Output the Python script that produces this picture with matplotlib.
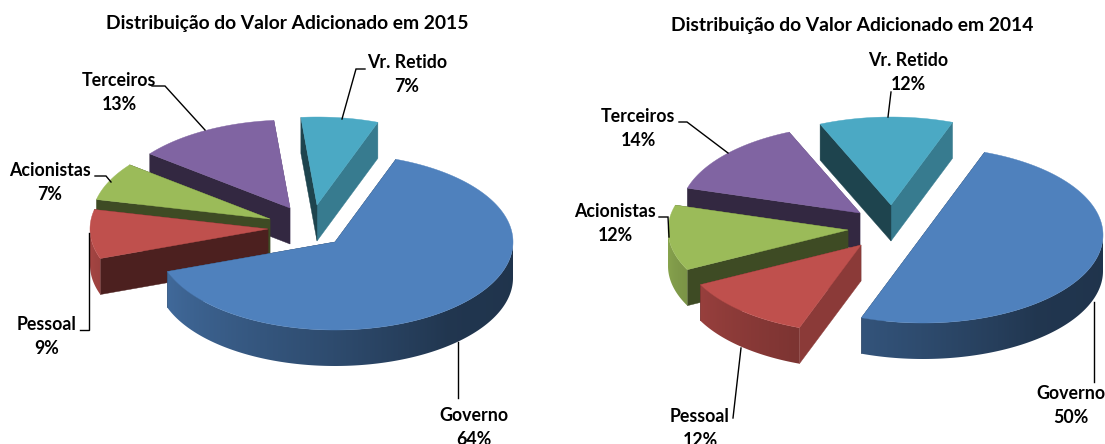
import numpy as np
import matplotlib
matplotlib.use("Agg")
import matplotlib.pyplot as plt
from matplotlib.colors import to_rgb
from matplotlib.patches import Polygon

# ---- data ----
categories = ["Governo", "Pessoal", "Acionistas", "Terceiros", "Vr. Retido"]
values_2015 = [64, 9, 7, 13, 7]
values_2014 = [50, 12, 12, 14, 12]
title_2015 = "Distribuição do Valor Adicionado em 2015"
title_2014 = "Distribuição do Valor Adicionado em 2014"

# ---- style / layout ----
colors = ["#4F81BD", "#BF504D", "#9BBB59", "#8064A2", "#4BA9C4"]
W, H = 1105, 444
DEPTH = 36
START = 70.0
FS = 12.8
TITLE_FS = 13.9
plt.rcParams["font.family"] = ["Lato", "DejaVu Sans"]

layout_2015 = dict(
    rx=178, ry=88,
    apex=[(335, 242), (268, 229), (270, 219), (290, 208), (317, 205)],
    title=(287, 23),
    labels=[(474, 427), (47, 336), (50, 182), (119, 92), (407, 75)],
    leaders=[[(458, 342), (458, 398)],
             [(89, 233), (89, 330), (80, 330)],
             [(111, 182), (106, 176), (95, 176)],
             [(205, 130), (165, 86), (152, 86)],
             [(342, 119), (356, 69), (365, 69)]],
)
layout_2014 = dict(
    rx=180, ry=88,
    apex=[(923, 235), (861, 245), (848, 230), (860, 213), (891, 205)],
    title=(852, 25),
    labels=[(1071, 405), (700, 428), (615, 223), (638, 128), (908, 73)],
    leaders=[[(1094, 302), (1094, 382)],
             [(741, 348), (733, 418)],
             [(669, 237), (668, 217), (659, 217)],
             [(728, 153), (687, 122), (679, 122)],
             [(888, 117), (891, 92)]],
)


def shade(c, f):
    return np.clip(np.array(to_rgb(c)) * f, 0, 1)


def side_factor(t):
    return np.interp(t, [180, 230, 270, 310, 360], [0.88, 0.72, 0.58, 0.42, 0.40])


def draw_pie(ax, values, lay):
    vals = np.asarray(values, float)
    frac = vals / vals.sum() * 360
    starts = START - np.concatenate([[0], np.cumsum(frac)[:-1]])
    rx, ry = lay["rx"], lay["ry"]
    for i in range(len(vals) - 1, -1, -1):
        t0, t1 = starts[i], starts[i] - frac[i]
        cx, cy = lay["apex"][i]
        col = colors[i]
        z = i * -10 + 50
        ts = np.linspace(t0, t1, max(int(abs(t0 - t1) * 2), 8))
        xs = cx + rx * np.cos(np.radians(ts))
        ys = cy - ry * np.sin(np.radians(ts))
        # radial side faces
        for t, nrm in ((t1, t1 - 90), (t0, t0 + 90)):
            px = cx + rx * np.cos(np.radians(t))
            py = cy - ry * np.sin(np.radians(t))
            f = 0.73 if np.cos(np.radians(nrm)) > 0.7 else 0.40
            ax.fill([cx, px, px, cx], [cy, py, py + DEPTH, cy + DEPTH],
                    color=shade(col, f), lw=0.3, zorder=z)
        # outer curved side: gradient clipped to the band under the front arc
        front = np.sin(np.radians(ts)) < 0.0
        if front.any():
            ax_, ay_ = xs[front], ys[front]
            poly = np.column_stack([np.r_[ax_, ax_[::-1]], np.r_[ay_, ay_[::-1] + DEPTH]])
            x0, x1 = poly[:, 0].min() - 1, poly[:, 0].max() + 1
            y0, y1 = poly[:, 1].min() - 1, poly[:, 1].max() + 1
            gx = np.linspace(x0, x1, max(int(x1 - x0), 2))
            ang = 360 - np.degrees(np.arccos(np.clip((gx - cx) / rx, -1, 1)))
            img = np.array([shade(col, side_factor(a)) for a in ang])[None, :, :]
            im = ax.imshow(img, extent=(x0, x1, y1, y0), aspect="auto",
                           interpolation="bilinear", zorder=z + 1)
            clip = Polygon(poly, closed=True, transform=ax.transData)
            im.set_clip_path(clip)
        # top face
        ax.fill(np.r_[cx, xs], np.r_[cy, ys], color=col, lw=0.3, zorder=z + 2)
    # leaders and labels
    for i, cat in enumerate(categories):
        pts = np.array(lay["leaders"][i])
        ax.plot(pts[:, 0], pts[:, 1], color="black", lw=1.0, zorder=100,
                solid_joinstyle="miter")
        lx, ly = lay["labels"][i]
        ax.text(lx, ly, f"{cat}\n{values[i]}%", ha="center", va="center",
                fontsize=FS, fontweight="bold", color="black", linespacing=1.5, zorder=101)


fig = plt.figure(figsize=(W / 100, H / 100), dpi=100, facecolor="white")
ax = fig.add_axes([0, 0, 1, 1])
draw_pie(ax, values_2015, layout_2015)
draw_pie(ax, values_2014, layout_2014)
ax.text(*layout_2015["title"], title_2015, ha="center", va="center",
        fontsize=TITLE_FS, fontweight="bold")
ax.text(*layout_2014["title"], title_2014, ha="center", va="center",
        fontsize=TITLE_FS, fontweight="bold")
ax.set_xlim(0, W)
ax.set_ylim(H, 0)
ax.axis("off")

fig.savefig("out.png", dpi=100, facecolor="white")
